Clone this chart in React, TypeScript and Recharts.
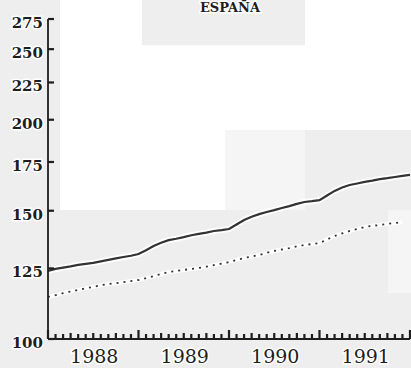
import React from "react";
import { LineChart, Line, XAxis, YAxis } from "recharts";

// Monthly index: 0 = Jan 1988 ... 48 = Jan 1992
const solidSeries = [
  124.0, 124.8, 125.3, 125.8, 126.4, 126.8, 127.2, 127.8, 128.4, 129.0, 129.6, 130.1,
  130.8, 132.4, 134.2, 135.6, 136.7, 137.3, 138.0, 138.8, 139.4, 140.0, 140.7, 141.1,
  141.6, 143.6, 145.7, 147.2, 148.4, 149.4, 150.3, 151.3, 152.2, 153.3, 154.2, 154.6,
  155.1, 157.4, 159.7, 161.4, 162.7, 163.5, 164.3, 165.0, 165.8, 166.3, 166.9, 167.5,
  168.0,
];
const dottedSeries = [
  114.2, 114.9, 115.6, 116.2, 116.8, 117.4, 117.9, 118.5, 119.0, 119.3, 119.7, 120.1,
  120.5, 121.2, 122.0, 122.8, 123.6, 124.0, 124.4, 124.8, 125.2, 125.7, 126.3, 126.9,
  127.5, 128.4, 129.2, 129.8, 130.4, 131.3, 132.1, 132.7, 133.3, 134.0, 134.6, 135.0,
  135.4, 137.0, 138.5, 139.6, 140.7, 141.6, 142.5, 143.0, 143.4, 143.9, 144.3, 144.6,
];
const yearLabels = ["1988", "1989", "1990", "1991"];
const yTicks = [100, 125, 150, 175, 200, 225, 250, 275];
const monthTicks = Array.from({ length: 49 }, (_, i) => i);
const title = "ESPAÑA";

const data = solidSeries.map((v, i) => ({
  m: i,
  solid: v,
  dotted: i < dottedSeries.length ? dottedSeries[i] : null,
}));

const INK = "#1e1e1e";

const XTick = (props: any) => {
  const { x, y, payload } = props;
  const v = Number(payload.value);
  const idx = Math.round((v - 6) / 12);
  const label = v % 12 === 6 ? yearLabels[idx] : null;
  const px = Number(x);
  const py = Number(y);
  const len = v % 12 === 0 ? 9 : v % 3 === 0 ? 6 : 5;
  return (
    <g>
      <rect x={px - 1.1} y={py - len} width={2.2} height={len} fill={INK} />
      {label && (
        <text
          x={px + 1}
          y={py + 24}
          textAnchor="middle"
          fontFamily="DejaVu Serif"
          fontSize={19}
          fill={INK}
          stroke="#fff"
          strokeWidth={3}
          paintOrder="stroke"
        >
          {label}
        </text>
      )}
    </g>
  );
};

const YTick = (props: any) => {
  const { x, y, payload } = props;
  const px = Number(x);
  const py = Number(y);
  return (
    <g>
      <rect x={px} y={py - 1.1} width={6} height={2.2} fill={INK} />
      <text
        x={px - 5}
        y={py + 9}
        textAnchor="end"
        fontFamily="DejaVu Serif"
        fontWeight="bold"
        fontSize={15}
        fill={INK}
        stroke="#fff"
        strokeWidth={3}
        paintOrder="stroke"
      >
        {payload.value}
      </text>
    </g>
  );
};

const box = (left: number, top: number, width: number, height: number, bg: string) => (
  <div
    style={{ position: "absolute", left, top, width, height, background: bg }}
  />
);

export default function App() {
  return (
    <div
      style={{
        position: "absolute",
        left: 0,
        top: 0,
        width: 411,
        height: 368,
        background: "#eeeeee",
        overflow: "hidden",
      }}
    >
      {box(60, 0, 351, 210, "#ffffff")}
      {box(142, 0, 163, 45, "#eeeeee")}
      {box(225, 130, 80, 80, "#f5f5f5")}
      {box(305, 130, 106, 80, "#eeeeee")}
      {box(388, 210, 23, 83, "#f5f5f5")}
      <div style={{ position: "absolute", left: 0, top: 0 }}>
        <LineChart
          width={411}
          height={368}
          data={data}
          margin={{ top: 19, right: 1, bottom: 0, left: 0 }}
        >
          <XAxis
            dataKey="m"
            type="number"
            domain={[0, 48]}
            ticks={monthTicks}
            interval={0}
            height={29}
            tickSize={0}
            tickMargin={0}
            tickLine={false}
            axisLine={{ stroke: INK, strokeWidth: 1.8 }}
            tick={(p: any) => <XTick {...p} />}
            allowDataOverflow
          />
          <YAxis
            scale="log"
            domain={[100, 275]}
            ticks={yTicks}
            interval={0}
            width={48}
            tickSize={0}
            tickMargin={0}
            tickLine={false}
            axisLine={{ stroke: INK, strokeWidth: 1.8 }}
            tick={(p: any) => <YTick {...p} />}
            allowDataOverflow
          />
          <Line
            dataKey="solid"
            stroke="#ffffff"
            strokeWidth={6}
            dot={false}
            isAnimationActive={false}
            type="linear"
          />
          <Line
            dataKey="dotted"
            stroke="#ffffff"
            strokeWidth={4}
            dot={false}
            isAnimationActive={false}
            type="linear"
          />
          <Line
            dataKey="solid"
            stroke="#333333"
            strokeWidth={2.2}
            dot={false}
            isAnimationActive={false}
            type="linear"
          />
          <Line
            dataKey="dotted"
            stroke="#333333"
            strokeWidth={1.8}
            strokeDasharray="2 5"
            dot={false}
            isAnimationActive={false}
            type="linear"
          />
          <text
            x={230}
            y={12}
            textAnchor="middle"
            fontFamily="DejaVu Serif"
            fontWeight="bold"
            fontSize={13}
            fill={INK}
            stroke="#fff"
            strokeWidth={3}
            paintOrder="stroke"
          >
            {title}
          </text>
        </LineChart>
      </div>
    </div>
  );
}
